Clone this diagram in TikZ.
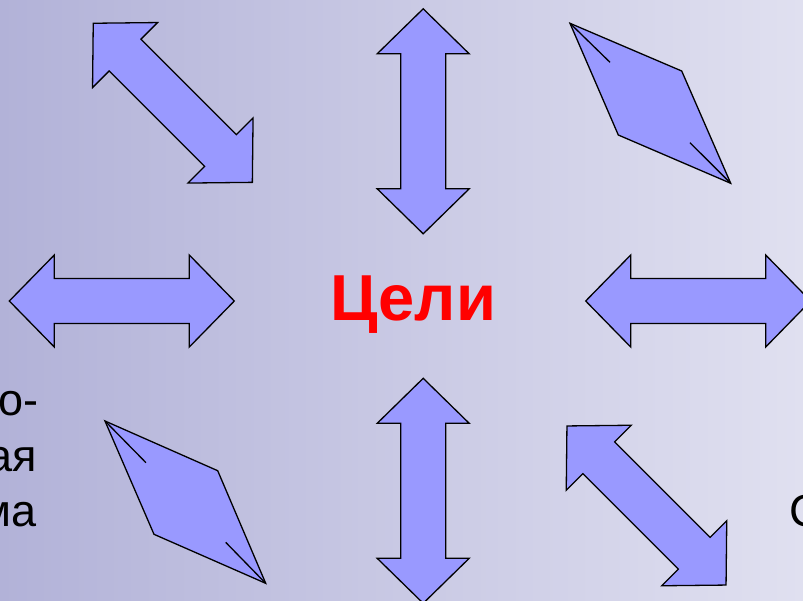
\documentclass[tikz,border=0pt]{standalone}
\usepackage{fontspec}
\setmainfont{Liberation Sans}
\definecolor{bgleft}{RGB}{178,178,216}
\definecolor{bgright}{RGB}{224,224,240}
\definecolor{arrowfill}{RGB}{153,153,255}
\tikzset{
  arrowshape/.style={draw=black, fill=arrowfill, line width=1.3pt, line join=miter},
  dblarrow/.pic={
    \draw[arrowshape] (-112.5,0) -- (-67.5,-46) -- (-67.5,-22.5) -- (67.5,-22.5) -- (67.5,-46)
      -- (112.5,0) -- (67.5,46) -- (67.5,22.5) -- (-67.5,22.5) -- (-67.5,46) -- cycle;
  },
  sidetext/.style={font=\fontsize{45}{54}\selectfont, text=black, inner sep=0pt},
}
\begin{document}
\begin{tikzpicture}[x=1pt,y=-1pt]
\shade[left color=bgleft, right color=bgright] (0,0) rectangle (803,600);
\useasboundingbox (0,0) rectangle (803,600);

% horizontal arrows
\pic at (121.8,301) {dblarrow};
\pic at (698.2,301) {dblarrow};
% vertical arrows
\pic[rotate=90] at (423.2,121.3) {dblarrow};
\pic[rotate=90] at (423.2,490.8) {dblarrow};
% diagonal arrows
\pic[rotate=-45] at (172.8,102.8) {dblarrow};
\pic[rotate=-45] at (646.5,505.5) {dblarrow};

% flattened arrows (rhombi)
\draw[arrowshape] (570,23.3) -- (681.7,71) -- (730.7,183.3) -- (618.3,135) -- cycle;
\draw[line width=1.3pt] (570,23.3) -- (610,62.3);
\draw[line width=1.3pt] (730.7,183.3) -- (690,142.7);
\draw[arrowshape] (105,421) -- (217.7,470.7) -- (265.7,583.3) -- (154,534.3) -- cycle;
\draw[line width=1.3pt] (105,421) -- (146,462.7);
\draw[line width=1.3pt] (265.7,583.3) -- (225.7,542.3);

% texts
\node[anchor=base, text=red, inner sep=0pt, font=\fontsize{65}{78}\selectfont\bfseries] (goal) at (413.3,320) {Цели};
\node[sidetext, anchor=base east] (l1) at (38.3,415) {о-};
\node[sidetext, anchor=base east] (l2) at (36.7,471.7) {ая};
\node[sidetext, anchor=base east] (l3) at (36.7,526.7) {ма};
\node[sidetext, anchor=base west] (r1) at (789,526.7) {С};
\end{tikzpicture}
\end{document}
